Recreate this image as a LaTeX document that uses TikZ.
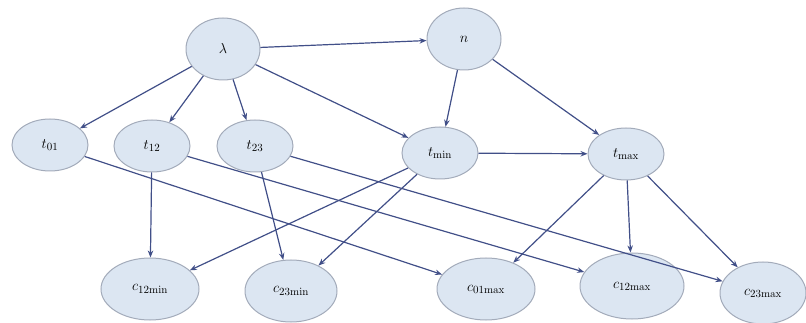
\documentclass[tikz,border=0pt]{standalone}
\usetikzlibrary{shapes.geometric,arrows.meta}
\definecolor{nodefill}{HTML}{DCE6F2}
\definecolor{nodeline}{HTML}{A3ABBA}
\definecolor{edgecol}{HTML}{414F88}
\begin{document}
\begin{tikzpicture}[x=1pt,y=-1pt,
  var/.style={ellipse,draw=nodeline,fill=nodefill,line width=1pt,inner sep=0pt,
    minimum width=76pt,minimum height=52pt,font=\fontsize{15}{17}\selectfont},
  big/.style={var,minimum width=98pt,minimum height=62pt},
  top/.style={var,minimum width=74pt,minimum height=62pt},
  edge/.style={draw=edgecol,line width=1.2pt,-{Stealth[length=7pt,width=5.5pt]}}]
\useasboundingbox (0,0) rectangle (806,323);
\node[top] (lam) at (223,49) {$\lambda$};
\node[top] (n) at (464,39) {$n$};
\node[var] (t01) at (50,145) {$t_{\mathrm{01}}$};
\node[var] (t12) at (152,146) {$t_{\mathrm{12}}$};
\node[var] (t23) at (255,146) {$t_{\mathrm{23}}$};
\node[var] (tmin) at (440,153) {$t_{\mathrm{min}}$};
\node[var] (tmax) at (626,154) {$t_{\mathrm{max}}$};
\node[big] (c12min) at (150,289) {$c_{\mathrm{12min}}$};
\node[big,minimum width=92pt] (c23min) at (291,291) {$c_{\mathrm{23min}}$};
\node[big] (c01max) at (486,289) {$c_{\mathrm{01max}}$};
\node[big,minimum width=104pt,minimum height=66pt] (c12max) at (632,286) {$c_{\mathrm{12max}}$};
\node[big,minimum width=86pt] (c23max) at (763,293) {$c_{\mathrm{23max}}$};
\draw[edge] (lam) -- (n);
\draw[edge] (lam) -- (t01);
\draw[edge] (lam) -- (t12);
\draw[edge] (lam) -- (t23);
\draw[edge] (lam) -- (tmin);
\draw[edge] (n) -- (tmin);
\draw[edge] (n) -- (tmax);
\draw[edge] (tmin) -- (tmax);
\draw[edge] (t01) -- (c01max);
\draw[edge] (t12) -- (c12min);
\draw[edge] (t12) -- (c12max);
\draw[edge] (t23) -- (c23min);
\draw[edge] (t23) -- (c23max);
\draw[edge] (tmin) -- (c12min);
\draw[edge] (tmin) -- (c23min);
\draw[edge] (tmax) -- (c01max);
\draw[edge] (tmax) -- (c12max);
\draw[edge] (tmax) -- (c23max);
\end{tikzpicture}
\end{document}
